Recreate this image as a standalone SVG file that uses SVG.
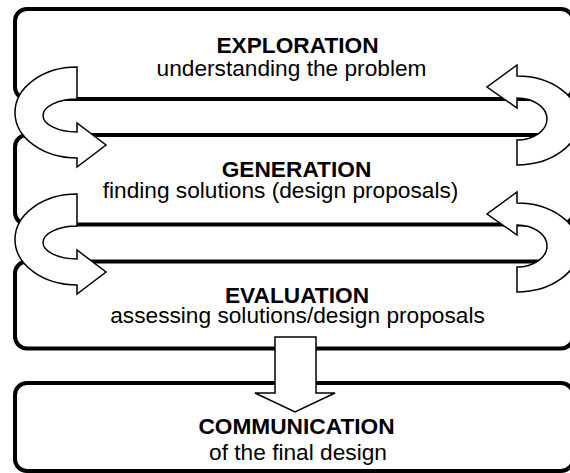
<svg xmlns="http://www.w3.org/2000/svg" width="570" height="473" viewBox="0 0 570 473">
<style>
.box{fill:#fff;stroke:#000;stroke-width:4}
.arr{fill:#fff;stroke:#000;stroke-width:1.5;stroke-linejoin:miter}
text{font-family:"Liberation Sans",Arial,sans-serif;font-size:22.7px;fill:#000;text-anchor:middle}
.t{font-weight:bold}
</style>
<rect x="0" y="0" width="570" height="473" fill="#fff"/>
<g id="exploration">
<rect class="box" x="15" y="9" width="558" height="90" rx="12"/>
<text class="t" x="297.5" y="53">EXPLORATION</text>
<text x="291.5" y="76">understanding the problem</text>
</g>
<g id="generation">
<rect class="box" x="15" y="135" width="558" height="89.5" rx="12"/>
<text class="t" x="296.5" y="177">GENERATION</text>
<text x="280.5" y="198">finding solutions (design proposals)</text>
</g>
<g id="evaluation">
<rect class="box" x="15" y="261.5" width="558" height="87" rx="12"/>
<text class="t" x="297" y="303">EVALUATION</text>
<text x="297.5" y="323">assessing solutions/design proposals</text>
</g>
<g id="communication">
<rect class="box" x="15" y="383" width="558" height="88" rx="12"/>
<text class="t" x="296.5" y="434">COMMUNICATION</text>
<text x="298" y="460">of the final design</text>
</g>
<g id="connectors">
<path class="arr" d="M77,67 A62,45.5 0 0 0 77,158 L77,167 L106,145 L77,123 L77,132 A34,16.5 0 0 1 77,99 Z"/>
<path class="arr" transform="translate(0,127)" d="M77,67 A62,45.5 0 0 0 77,158 L77,167 L106,145 L77,123 L77,132 A34,16.5 0 0 1 77,99 Z"/>
<path class="arr" d="M517,165 A62,44.5 0 0 0 517,76 L517,65 L487,87 L517,108 L517,98 A30,21 0 0 1 517,140 Z"/>
<path class="arr" transform="translate(0,127)" d="M517,165 A62,44.5 0 0 0 517,76 L517,65 L487,87 L517,108 L517,98 A30,21 0 0 1 517,140 Z"/>
<path class="arr" d="M275,337 L316,337 L316,393 L335,393 L295,412 L255,393 L275,393 Z"/>
</g>
</svg>
